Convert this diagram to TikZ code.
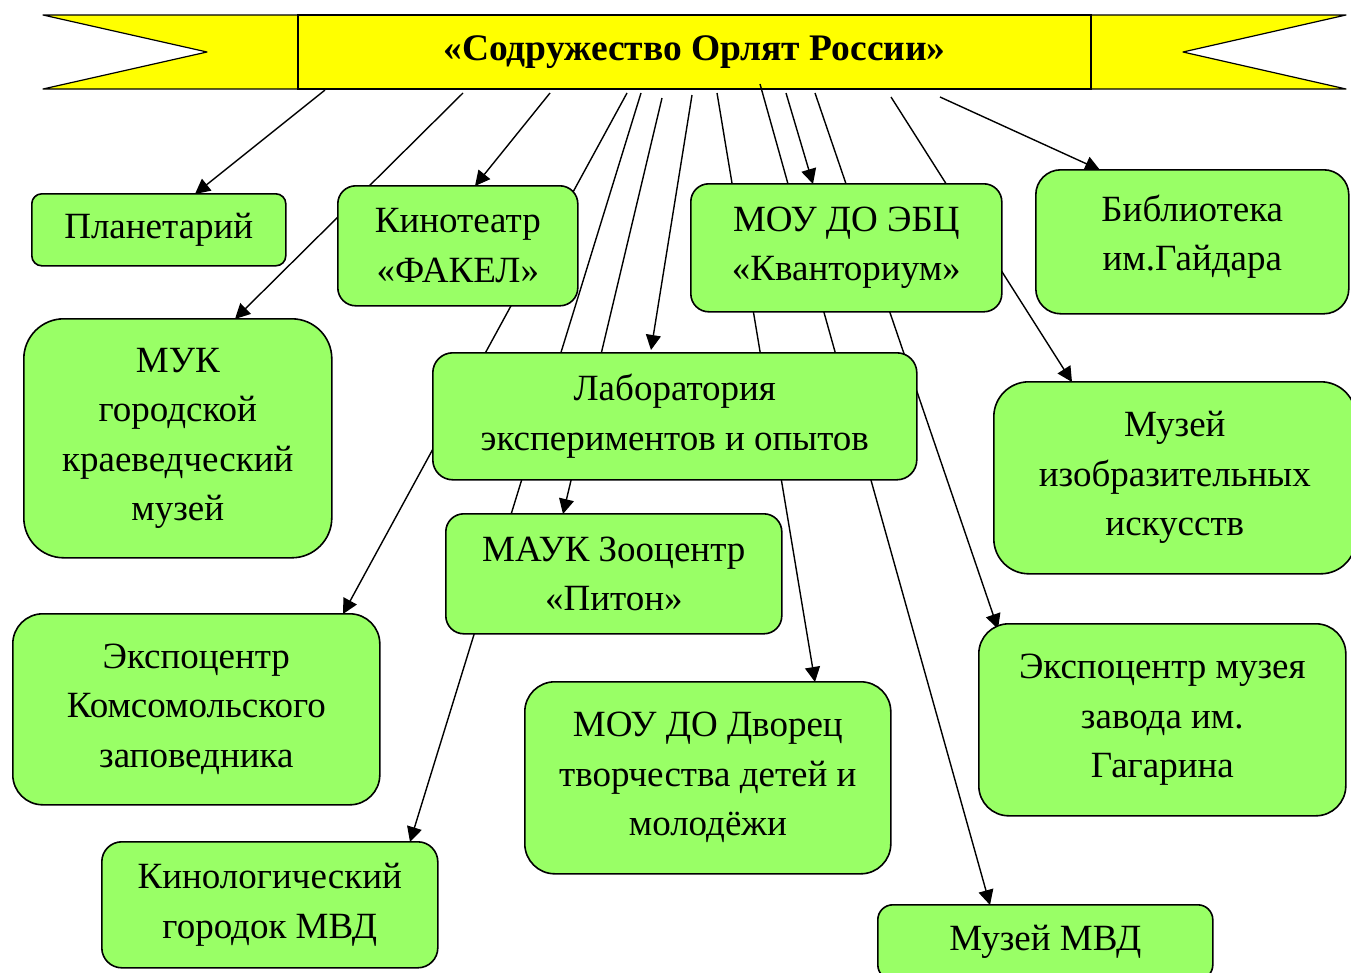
\documentclass[tikz,border=0pt]{standalone}
\usepackage{fontspec}
\setmainfont{Liberation Serif}
\usetikzlibrary{arrows.meta,calc}
\pgfdeclarelayer{bannerlayer}
\pgfdeclarelayer{linelayer}
\pgfsetlayers{bannerlayer,linelayer,main}
\definecolor{boxgreen}{HTML}{99FF66}
\definecolor{banneryellow}{HTML}{FFFF00}
\begin{document}
\begin{tikzpicture}[x=1pt,y=-1pt,
  box/.style={draw=black, line width=1.6pt, fill=boxgreen, rounded corners=#1, align=center, inner sep=0pt, font=\fontsize{37}{49.5}\selectfont, anchor=north west},
  box/.default=15pt,
  conn/.style={line width=1.4pt},
  arr/.style={conn, -{Triangle[length=15pt,width=15pt]}},
  tail/.style={fill=banneryellow, draw=black, line width=1.2pt, line join=round},
  titlebox/.style={fill=banneryellow, draw=black, line width=1.6pt, minimum width=793pt, minimum height=74pt, inner sep=0pt, font=\fontsize{37.5}{42}\selectfont\bfseries},
]
\useasboundingbox (0,0) rectangle (1351,972);
\clip (0,0) rectangle (1351,972);

% boxes
\node[box=10pt, minimum width=254pt, minimum height=72pt] (plan) at (31,193) {Планетарий};
\node[box=18pt, minimum width=240pt, minimum height=120pt] (kino) at (337,185) {Кинотеатр\\«ФАКЕЛ»};
\node[box=18pt, minimum width=311pt, minimum height=128pt] (ebc) at (690,183) {МОУ ДО ЭБЦ\\«Кванториум»};
\node[box=25pt, minimum width=313pt, minimum height=144pt, text depth=18pt] (bibl) at (1035,169) {Библиотека\\им.Гайдара};
\node[box=40pt, minimum width=308pt, minimum height=239pt] (muk) at (23,318) {МУК\\городской\\краеведческий\\музей};
\node[box=20pt, minimum width=484pt, minimum height=127pt] (lab) at (432,352) {Лаборатория\\экспериментов и опытов};
\node[box=35pt, minimum width=362pt, minimum height=192pt] (izo) at (993,381) {Музей\\изобразительных\\искусств};
\node[box=18pt, minimum width=336pt, minimum height=120pt] (zoo) at (445,513) {МАУК Зооцентр\\«Питон»};
\node[box=30pt, minimum width=367pt, minimum height=191pt] (komsomol) at (12,613) {Экспоцентр\\Комсомольского\\заповедника};
\node[box=30pt, minimum width=366pt, minimum height=192pt] (dvorec) at (524,681) {МОУ ДО Дворец\\творчества детей и\\молодёжи};
\node[box=30pt, minimum width=367pt, minimum height=192pt] (gagarin) at (978,623) {Экспоцентр музея\\завода им.\\Гагарина};
\node[box=20pt, minimum width=336pt, minimum height=126pt] (kinolog) at (101,841) {Кинологический\\городок МВД};
\node[box=15pt, minimum width=335pt, minimum height=75pt] (mvd) at (877,904) {Музей МВД};

% banner
\begin{pgfonlayer}{bannerlayer}
\draw[tail] (43,15) -- (298,15) -- (298,89) -- (43,89) -- (207,52) -- cycle;
\draw[tail] (1091,15) -- (1346,15) -- (1183,52) -- (1346,89) -- (1091,89) -- cycle;
\node[titlebox] (banner) at (694.5,52) {«Содружество Орлят России»};
\end{pgfonlayer}

% start points on the banner
\coordinate (s1) at (325,90);
\coordinate (s2) at (463,93);
\coordinate (s3) at (550,93);
\coordinate (s4) at (627,93);
\coordinate (s5) at (641,93);
\coordinate (s6) at (662,98);
\coordinate (s7) at (692,95);
\coordinate (s8) at (717,93);
\coordinate (s9) at (760,84);
\coordinate (s10) at (786,93);
\coordinate (s11) at (815,93);
\coordinate (s12) at (891,97);
\coordinate (s13) at (940,97);

% end points on the target boxes
\coordinate (t1) at ($(plan.north west)+(164,1)$);
\coordinate (t2) at ($(muk.north west)+(212,1)$);
\coordinate (t3) at ($(kino.north west)+(138,1)$);
\coordinate (t4) at ($(komsomol.north west)+(331,1)$);
\coordinate (t5) at ($(kinolog.north west)+(309,1)$);
\coordinate (t6) at ($(zoo.north west)+(118,1)$);
\coordinate (t7) at ($(lab.north west)+(219,-2)$);
\coordinate (t8) at ($(dvorec.north west)+(291,1)$);
\coordinate (t9) at ($(mvd.north west)+(113,1)$);
\coordinate (t10) at ($(ebc.north west)+(123,1)$);
\coordinate (t11) at ($(gagarin.north west)+(20,6)$);
\coordinate (t12) at ($(izo.north west)+(79,1)$);
\coordinate (t13) at ($(bibl.north west)+(65,1)$);

\begin{pgfonlayer}{linelayer}
\foreach \i in {1,...,13} {\draw[arr] (s\i) -- (t\i);}
\end{pgfonlayer}
\end{tikzpicture}
\end{document}
